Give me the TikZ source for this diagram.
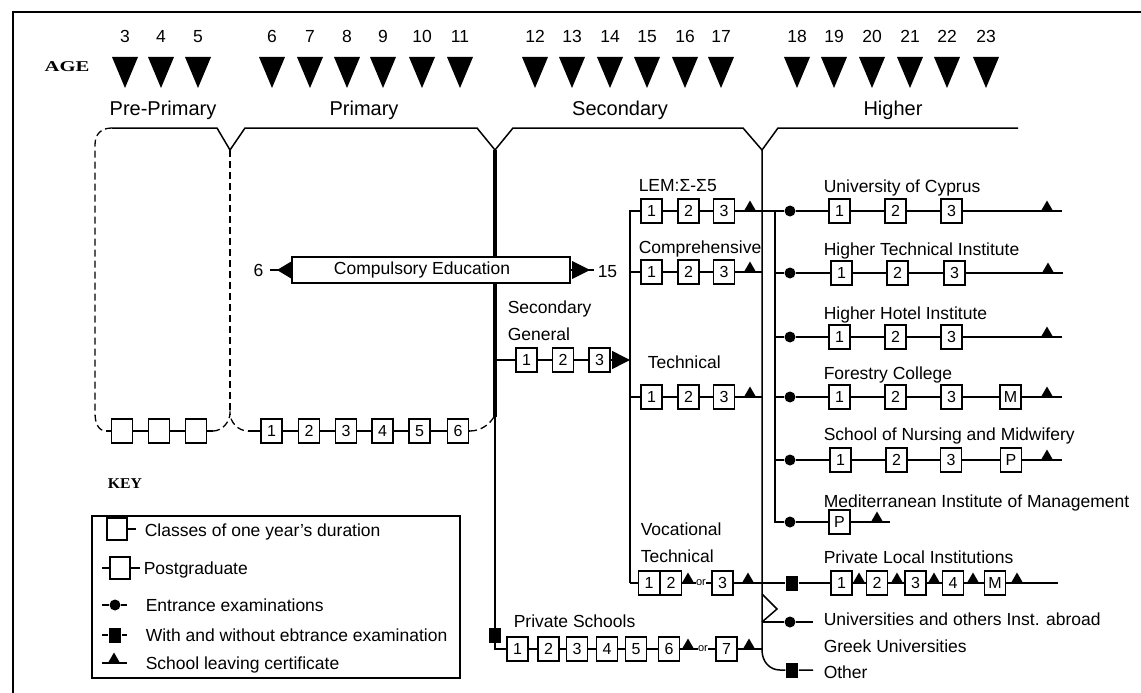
\documentclass[tikz,border=0pt]{standalone}
\usepackage{fontspec}
\setmainfont{Liberation Sans}
\newfontfamily\titlefont{Liberation Serif}
\usetikzlibrary{shapes.geometric,arrows.meta}
\begin{document}
\begin{tikzpicture}[x=1pt,y=-1pt,line width=1.5pt,
  lbl/.style={anchor=base west, inner sep=0pt, font=\fontsize{17.5}{20}\selectfont},
  stage/.style={anchor=base, inner sep=0pt, font=\fontsize{20}{22}\selectfont},
  agenum/.style={anchor=base, inner sep=0pt, font=\fontsize{17.5}{18}\selectfont},
  yr/.style={draw, fill=white, line width=1.5pt, minimum width=21pt, minimum height=24pt, inner sep=0pt, font=\fontsize{16}{16}\selectfont},
  keybox/.style={draw, fill=white, line width=1.5pt, minimum width=20pt, minimum height=22pt, inner sep=0pt},
  dot/.style={circle, fill, inner sep=0pt, minimum size=11pt},
  sqm/.style={rectangle, fill, inner sep=0pt, minimum width=12pt, minimum height=15pt},
  cert/.style={regular polygon, regular polygon sides=3, fill, inner sep=0pt, minimum size=15pt, yshift=3pt},
  ortext/.style={fill=white, inner sep=0.5pt, font=\fontsize{11}{12}\selectfont},
  dashedline/.style={line width=1.3pt, dash pattern=on 7pt off 4pt},
]
\useasboundingbox (0,0) rectangle (1141,693);
% frame
\draw[line width=2pt] (13,693) -- (13,12) -- (1141,12);

% ages
\node[anchor=base, inner sep=0pt, font=\titlefont\bfseries\fontsize{15}{16}\selectfont] (agelbl) at (67,72) {\scalebox{1.38}[1]{AGE}};
\foreach \n/\x in {3/125,4/161,5/198,6/272,7/310,8/347,9/383,10/422,11/460,12/535,13/572,14/610,15/647,16/685,17/721,18/797,19/834,20/872,21/910,22/947,23/986}{
  \node[agenum] (age\n) at (\x,43) {\n};
  \fill (\x-13,57) -- (\x+13,57) -- (\x,88) -- cycle;
}

% stage labels
\node[stage] (stpp) at (163,115) {Pre-Primary};
\node[stage] (stp) at (364,115) {Primary};
\node[stage] (sts) at (620,115) {Secondary};
\node[stage] (sth) at (893,115) {Higher};

% brackets
\draw (112,128) -- (217,128) -- (230,150) -- (245,128) -- (477,128) -- (495,150) -- (513,128) -- (743,128) -- (762,150) -- (778,128) -- (1018,128);
\draw[dashedline] (112,128) .. controls (101,128) and (95,134) .. (95,145) -- (95,413) .. controls (95,424) and (99,431) .. (106,431);
\draw[dashedline] (230,150) -- (230,413);
\draw[dashedline] (213,431) .. controls (222,431) and (230,422) .. (230,413) .. controls (230,422) and (238,431) .. (248,431);

% pre-primary boxes
\coordinate (pps) at (106,431);
\coordinate (ppe) at (213,431);
\node[yr] (pp1) at (122,431) {};
\node[yr] (pp2) at (159,431) {};
\node[yr] (pp3) at (196,431) {};
\draw (pps) -- (pp1) -- (pp2) -- (pp3) -- (ppe);

% primary boxes
\coordinate (prs) at (248,431);
\coordinate (pre) at (470,431);
\node[yr] (p1) at (271.5,431) {1};
\node[yr] (p2) at (309,431) {2};
\node[yr] (p3) at (346,431) {3};
\node[yr] (p4) at (382.5,431) {4};
\node[yr] (p5) at (419.5,431) {5};
\node[yr] (p6) at (458,431) {6};
\draw (prs) -- (p1) -- (p2) -- (p3) -- (p4) -- (p5) -- (p6) -- (pre);
\draw[dashedline] (pre) .. controls (480,431) and (490,425) .. (495,415);

% secondary main line
\draw[line width=4pt] (495,150) -- (495,417);
\coordinate (psc) at (495,649);
\node[yr] (ps1) at (517.5,649) {1};
\draw (495,417) -- (psc) -- (ps1);
\node[sqm] (psq) at (495,635) {};

% compulsory education
\node[draw, fill=white, minimum width=278pt, minimum height=26pt, inner sep=0pt, font=\fontsize{17.5}{20}\selectfont] (ce) at (431,270) {Compulsory Education\hspace*{18pt}};
\node[agenum, anchor=base east] (six) at (264,276) {6};
\coordinate (cel) at (270,270);
\draw (ce.west) -- (cel);
\fill (292,261) -- (292,279) -- (277,270) -- cycle;
\node[agenum, anchor=base west] (fifteen) at (597,277) {15};
\coordinate (cer) at (594,270);
\draw (ce.east) -- (cer);
\fill (572,261) -- (572,279) -- (590,270) -- cycle;

% secondary general
\node[lbl] (sgl1) at (507,313) {Secondary};
\node[lbl] (sgl2) at (507,340) {General};
\coordinate (sgs) at (495,360);
\coordinate (sge) at (630,360);
\node[yr] (sg1) at (526.5,360) {1};
\node[yr] (sg2) at (563,360) {2};
\node[yr] (sg3) at (599.5,360) {3};
\draw (sgs) -- (sg1) -- (sg2) -- (sg3);
\draw[-{Triangle[width=18pt,length=18pt]}] (sg3) -- (sge);

% upper secondary branches
\coordinate (v1t) at (630,211);
\coordinate (v1b) at (630,583);
\node[lbl] (leml) at (638,191) {LEM:Σ-Σ5};
\node[yr] (lem1) at (651.5,211) {1};
\node[yr] (lem2) at (688.5,211) {2};
\node[yr] (lem3) at (724,211) {3};
\node[dot] (ucdot) at (790,211) {};
\draw (lem1) -- (v1t) -- (v1b);
\draw (lem1) -- (lem2) -- (lem3) -- (ucdot);
\node[cert] (lemc) at (750,211) {};

\node[lbl] (cpl) at (638,253) {Comprehensive};
\coordinate (cps) at (630,272);
\coordinate (cpe) at (762,272);
\node[yr] (cp1) at (651.5,272) {1};
\node[yr] (cp2) at (688.5,272) {2};
\node[yr] (cp3) at (724,272) {3};
\draw (cps) -- (cp1) -- (cp2) -- (cp3) -- (cpe);
\node[cert] (cpc) at (750,272) {};

\node[lbl] (tcl) at (647,368) {Technical};
\coordinate (tcs) at (630,397);
\coordinate (tce) at (762,397);
\node[yr] (tc1) at (651.5,397) {1};
\node[yr] (tc2) at (688.5,397) {2};
\node[yr] (tc3) at (724,397) {3};
\draw (tcs) -- (tc1) -- (tc2) -- (tc3) -- (tce);
\node[cert] (tcc) at (750,397) {};

\node[lbl] (vtl1) at (640,535) {Vocational};
\node[lbl] (vtl2) at (640,562) {Technical};
\node[yr] (vt1) at (649,583) {1};
\node[yr] (vt2) at (671,583) {2};
\node[yr] (vt3) at (722.5,583) {3};
\node[sqm] (plsq) at (792,583) {};
\draw (v1b) -- (vt1) -- (vt2) -- (vt3) -- (plsq);
\node[cert] (vtc1) at (688,583) {};
\node[ortext] (vtor) at (701,583) {or};
\node[cert] (vtc2) at (748,583) {};

% private schools
\node[lbl] (psl) at (513,627) {Private Schools};
\node[yr] (ps2) at (548.5,649) {2};
\node[yr] (ps3) at (577,649) {3};
\node[yr] (ps4) at (607,649) {4};
\node[yr] (ps5) at (636,649) {5};
\node[yr] (ps6) at (669,649) {6};
\node[yr] (ps7) at (726.5,649) {7};
\coordinate (pse) at (762,649);
\draw (ps1) -- (ps2) -- (ps3) -- (ps4) -- (ps5) -- (ps6) -- (ps7) -- (pse);
\node[cert] (psc1) at (688,649) {};
\node[ortext] (psor) at (703,649) {or};
\node[cert] (psc2) at (749,649) {};

% higher verticals
\coordinate (h1t) at (762,150);
\coordinate (h1b) at (762,650);
\coordinate (othc) at (780,670);
\node[sqm] (othsq) at (792,670) {};
\coordinate (othe) at (813,670);
\draw (h1t) -- (h1b) .. controls (762,662) and (770,670) .. (othc) -- (othsq) -- (othe);
\node[lbl] (othl) at (823,678) {Other};

\coordinate (h2t) at (775,211);
\node[dot] (midot) at (790,522) {};
\draw (h2t) -- (775,522) -- (midot);

% University of Cyprus
\node[lbl] (ucl) at (823,192) {University of Cyprus};
\node[yr] (uc1) at (839.5,211) {1};
\node[yr] (uc2) at (895.5,211) {2};
\node[yr] (uc3) at (951.5,211) {3};
\coordinate (uce) at (1062,211);
\draw (ucdot) -- (uc1) -- (uc2) -- (uc3) -- (uce);
\node[cert] (ucc) at (1047,211) {};

% Higher Technical Institute
\node[lbl] (htl) at (823,255) {Higher Technical Institute};
\coordinate (hts) at (775,273);
\node[dot] (htdot) at (790,273) {};
\node[yr] (ht1) at (841.5,273) {1};
\node[yr] (ht2) at (897.5,273) {2};
\node[yr] (ht3) at (954.5,273) {3};
\coordinate (hte) at (1063,273);
\draw (hts) -- (htdot) -- (ht1) -- (ht2) -- (ht3) -- (hte);
\node[cert] (htc) at (1048,273) {};

% Higher Hotel Institute
\node[lbl] (hhl) at (823,319) {Higher Hotel Institute};
\coordinate (hhs) at (775,337);
\node[dot] (hhdot) at (790,337) {};
\node[yr] (hh1) at (839.5,337) {1};
\node[yr] (hh2) at (895.5,337) {2};
\node[yr] (hh3) at (951.5,337) {3};
\coordinate (hhe) at (1062,337);
\draw (hhs) -- (hhdot) -- (hh1) -- (hh2) -- (hh3) -- (hhe);
\node[cert] (hhc) at (1047,337) {};

% Forestry College
\node[lbl] (fcl) at (823,379) {Forestry College};
\coordinate (fcs) at (775,397);
\node[dot] (fcdot) at (790,397) {};
\node[yr] (fc1) at (839.5,397) {1};
\node[yr] (fc2) at (895.5,397) {2};
\node[yr] (fc3) at (951.5,397) {3};
\node[yr] (fc4) at (1010.5,397) {M};
\coordinate (fce) at (1062,397);
\draw (fcs) -- (fcdot) -- (fc1) -- (fc2) -- (fc3) -- (fc4) -- (fce);
\node[cert] (fcc) at (1047,397) {};

% School of Nursing and Midwifery
\node[lbl] (snl) at (823,440) {School of Nursing and Midwifery};
\coordinate (sns) at (775,460);
\node[dot] (sndot) at (790,460) {};
\node[yr] (sn1) at (840.5,460) {1};
\node[yr] (sn2) at (896.5,460) {2};
\node[yr] (sn3) at (951,460) {3};
\node[yr] (sn4) at (1011,460) {P};
\coordinate (sne) at (1062,460);
\draw (sns) -- (sndot) -- (sn1) -- (sn2) -- (sn3) -- (sn4) -- (sne);
\node[cert] (snc) at (1047,460) {};

% Mediterranean Institute of Management
\node[lbl] (mil) at (823,507) {Mediterranean Institute of Management};
\node[yr] (mi1) at (839.5,522) {P};
\coordinate (mie) at (890,522);
\draw (midot) -- (mi1) -- (mie);
\node[cert] (mic) at (877,522) {};

% Private Local Institutions
\node[lbl] (pll) at (823,563) {Private Local Institutions};
\node[yr] (pl1) at (841.5,583) {1};
\node[yr] (pl2) at (877,583) {2};
\node[yr] (pl3) at (915.5,583) {3};
\node[yr] (pl4) at (953,583) {4};
\node[yr] (pl5) at (995,583) {M};
\coordinate (ple) at (1058,583);
\draw (plsq) -- (pl1) -- (pl2) -- (pl3) -- (pl4) -- (pl5) -- (ple);
\node[cert] (plc1) at (859,583) {};
\node[cert] (plc2) at (897,583) {};
\node[cert] (plc3) at (934,583) {};
\node[cert] (plc4) at (973,583) {};
\node[cert] (plc5) at (1017,583) {};

% abroad
\coordinate (uas) at (762,622);
\coordinate (uaa) at (762,594);
\coordinate (uab) at (777,609);
\node[dot] (uadot) at (790,622) {};
\coordinate (uae) at (813,622);
\draw (uas) -- (uadot) -- (uae);
\draw (uaa) -- (uab) -- (uas);
\node[lbl] (ual) at (823,625) {Universities and others Inst. abroad};
\node[lbl] (grl) at (823,652) {Greek Universities};

% key
\node[anchor=base, inner sep=0pt, font=\titlefont\bfseries\fontsize{15}{16}\selectfont] (keyl) at (125,488) {\scalebox{1.05}[1]{KEY}};
\node[draw, line width=1.5pt, minimum width=368pt, minimum height=162pt, inner sep=0pt] (keyframe) at (276,597) {};
\node[keybox] (k1b) at (117,529) {};
\coordinate (k1e) at (136,529);
\draw (k1b) -- (k1e);
\node[lbl] (k1t) at (144,536) {Classes of one year's duration};
\coordinate (k2s) at (102,568);
\node[keybox] (k2b) at (120,568) {};
\coordinate (k2e) at (140,568);
\draw (k2s) -- (k2b) -- (k2e);
\node[lbl] (k2t) at (143,574) {Postgraduate};
\coordinate (k3s) at (102,605);
\node[dot] (k3m) at (115,605) {};
\coordinate (k3e) at (127,605);
\draw (k3s) -- (k3m) -- (k3e);
\node[lbl] (k3t) at (145,611) {Entrance examinations};
\coordinate (k4s) at (102,635);
\node[sqm] (k4m) at (115,635) {};
\coordinate (k4e) at (127,635);
\draw (k4s) -- (k4m) -- (k4e);
\node[lbl] (k4t) at (145,641) {With and without ebtrance examination};
\coordinate (k5s) at (102,663);
\coordinate (k5e) at (127,663);
\draw (k5s) -- (k5e);
\node[cert] (k5m) at (114,663) {};
\node[lbl] (k5t) at (145,669) {School leaving certificate};
\end{tikzpicture}
\end{document}
